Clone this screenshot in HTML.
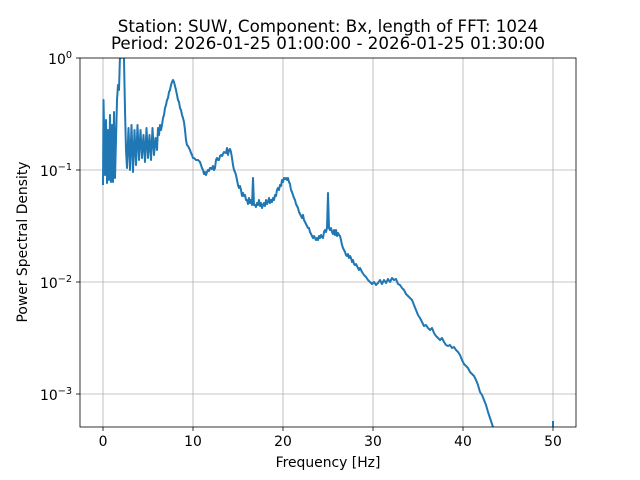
<!DOCTYPE html>
<html><head><meta charset="utf-8"><style>
body{margin:0;background:#fff;}
svg{display:block;font-family:"DejaVu Sans","Liberation Sans",sans-serif;}
</style></head><body>
<svg width="640" height="480" xmlns="http://www.w3.org/2000/svg">
<defs><clipPath id="c"><rect x="80" y="58" width="496" height="369"/></clipPath></defs>
<g stroke="#b0b0b0" stroke-width="0.8">
<line x1="103" y1="58" x2="103" y2="427"/><line x1="193" y1="58" x2="193" y2="427"/>
<line x1="283" y1="58" x2="283" y2="427"/><line x1="373" y1="58" x2="373" y2="427"/>
<line x1="463" y1="58" x2="463" y2="427"/><line x1="553" y1="58" x2="553" y2="427"/>
<line x1="80" y1="170" x2="576" y2="170"/><line x1="80" y1="282" x2="576" y2="282"/>
<line x1="80" y1="394" x2="576" y2="394"/>
</g>
<g clip-path="url(#c)"><polyline fill="none" stroke="#1f77b4" stroke-width="2" stroke-linejoin="round" points="103,185 103.5,100 105,175 106,120 107,183 108,130 109,180 110,115 111,182 112,125 113,182 114,112 115,178 116,140 117,100 118,85 119,90 120,55 121,58 122,40 123,45 124,60 125,110 126,150 127,168 128.5,128 130,170 131.5,125 133,172 134.5,130 136,165 137.5,125 139,160 140.5,130 142,158 143.5,135 145,162 146.5,128 148,158 149.5,135 151,160 152.5,128 154,155 155.5,138 157,150 158,128 159,135 160,125 161,130 162,125 163,118 164,115 165,108 166,105 167,100 168,98 169,92 170,90 171,85 172,82 173,80 174,82 175,86 176,90 177,95 178,100 179,102 180,108 181,110 182,115 183,118 184,122 185,130 186,140 187,145 188,146 189,148 190,150 191,153 192,155 193,158 194,158 196,160 198,160 200,162 201,165 202,168 203,170 204,174 205,172 206,175 207,172 208,170 209,171 210,168 211,168 212,169 213,166 214,170 215,168 216,160 217,158 218,160 219,160 220,156 221,155 222,156 223,154 224,152 226,153 227,148 228,155 229,150 230,149 231,152 232,158 233,165 234,170 235,172 236,175 237,180 238,185 239,188 240,186 241,190 242,196 243,193 244,196 245,195 246,200 247,200 248,204 249,198 250,203 251,200 252,205 253,178 254,205 255,205 256,207 257,203 258,205 259,200 260,206 261,203 262,208 263,205 264,203 265,206 266,200 267,204 268,202 269,198 270,203 271,200 272,202 273,198 274,200 275,195 276,196 277,190 278,188 279,190 280,185 281,186 282,180 283,182 284,178 285,179 286,178 287,180 288,178 289,182 290,184 291,190 292,192 293,195 294,198 295,200 296,204 297,206 298,208 299,212 300,214 301,216 302,218 303,215 304,220 305,222 306,224 307,226 308,228 309,228 310,232 311,234 312,236 313,238 314,236 315,238 316,240 317,238 318,240 319,236 320,238 321,235 322,237 323,238 324,232 325,230 326,232 327,228 328,193 329,228 330,230 331,228 332,232 333,234 334,230 335,235 336,230 337,236 338,233 339,235 340,236 341,240 342,245 343,248 344,250 345,252 346,255 347,256 348,254 349,258 350,256 351,258 352,262 353,260 354,264 355,265 356,264 357,266 358,268 359,270 360,268 362,272 364,275 366,277 368,280 370,282 372,284 374,282 376,285 378,283 380,280 382,284 384,280 386,283 388,279 390,282 392,278 394,280 396,279 398,284 400,285 402,288 404,290 406,294 408,296 410,298 412,300 414,305 416,310 418,315 420,318 422,322 424,326 426,325 428,328 430,330 432,328 434,333 436,336 438,338 440,340 442,338 444,342 446,345 448,346 450,345 452,348 454,347 456,350 458,352 460,355 462,360 464,364 466,366 468,368 470,372 472,374 474,376 476,380 478,385 480,392 482,395 484,400 486,405 488,412 490,418 492,424 494,430"/>
<line x1="553" y1="421" x2="553" y2="430" stroke="#1f77b4" stroke-width="2"/></g>
<rect x="80" y="58" width="496" height="369" fill="none" stroke="#000" stroke-width="0.8"/>
<g stroke="#000" stroke-width="0.8">
<line x1="103" y1="427" x2="103" y2="431"/><line x1="193" y1="427" x2="193" y2="431"/>
<line x1="283" y1="427" x2="283" y2="431"/><line x1="373" y1="427" x2="373" y2="431"/>
<line x1="463" y1="427" x2="463" y2="431"/><line x1="553" y1="427" x2="553" y2="431"/>
<line x1="76" y1="58" x2="80" y2="58"/><line x1="76" y1="170" x2="80" y2="170"/>
<line x1="76" y1="282" x2="80" y2="282"/><line x1="76" y1="394" x2="80" y2="394"/>
</g>
<g font-size="13.9" text-anchor="middle">
<text x="103" y="446">0</text><text x="193" y="446">10</text><text x="283" y="446">20</text>
<text x="373" y="446">30</text><text x="463" y="446">40</text><text x="553" y="446">50</text>
</g>
<g font-size="13.9" text-anchor="end">
<text x="72" y="64">10<tspan dy="-6" font-size="9.7">0</tspan></text>
<text x="72" y="176">10<tspan dy="-6" font-size="9.7">−1</tspan></text>
<text x="72" y="288">10<tspan dy="-6" font-size="9.7">−2</tspan></text>
<text x="72" y="400">10<tspan dy="-6" font-size="9.7">−3</tspan></text>
</g>
<text x="328" y="467" font-size="13.9" text-anchor="middle">Frequency [Hz]</text>
<text transform="translate(27,242) rotate(-90)" font-size="13.9" text-anchor="middle">Power Spectral Density</text>
<text x="328" y="32" font-size="16.7" text-anchor="middle">Station: SUW, Component: Bx, length of FFT: 1024</text>
<text x="328" y="49" font-size="16.7" text-anchor="middle">Period: 2026-01-25 01:00:00 - 2026-01-25 01:30:00</text>
</svg>
</body></html>
